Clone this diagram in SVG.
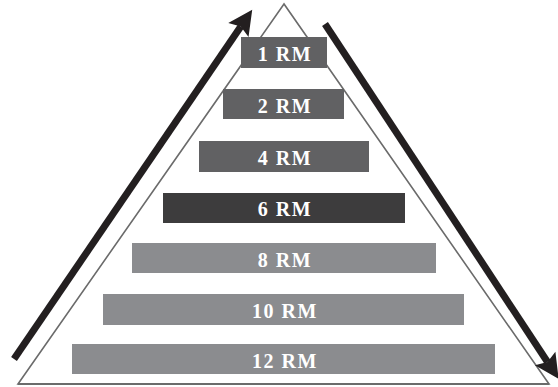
<svg xmlns="http://www.w3.org/2000/svg" width="558" height="387" viewBox="0 0 558 387">
<defs>
<marker id="head" markerUnits="userSpaceOnUse" markerWidth="32" markerHeight="32" viewBox="-2 -14 30 28" refX="4" refY="0" orient="auto" overflow="visible">
<path d="M0,-11.5 L23,0 L0,11.5 L4,0 Z" fill="#231f20"/>
</marker>
<style>
.bar text{font-family:"Liberation Serif","Times New Roman",serif;font-weight:bold;font-size:20px;fill:#ffffff;text-anchor:middle;letter-spacing:1.5px}
.mid{fill:#616163}
.dark{fill:#3d3c3d}
.light{fill:#8b8c8f}
.arrow{stroke:#231f20;stroke-width:7;fill:none;marker-end:url(#head)}
</style>
</defs>
<rect width="558" height="387" fill="#ffffff"/>
<g id="pyramid">
<polygon points="284,4 18,384 549,384" fill="none" stroke="#6b6b6b" stroke-width="1.6"/>
<line x1="18" y1="384" x2="549" y2="384" stroke="#6b6b6b" stroke-width="2.2"/>
</g>
<g id="rm1" class="bar"><rect class="mid" x="241" y="37" width="86" height="31"/><text x="285" y="61">1 RM</text></g>
<g id="rm2" class="bar"><rect class="mid" x="223" y="89" width="121" height="30"/><text x="285" y="113">2 RM</text></g>
<g id="rm4" class="bar"><rect class="mid" x="199" y="141" width="170" height="31"/><text x="285" y="165">4 RM</text></g>
<g id="rm6" class="bar"><rect class="dark" x="163" y="193" width="242" height="30"/><text x="285" y="216">6 RM</text></g>
<g id="rm8" class="bar"><rect class="light" x="132" y="243" width="304" height="30"/><text x="285" y="267">8 RM</text></g>
<g id="rm10" class="bar"><rect class="light" x="103" y="294" width="361" height="31"/><text x="285" y="318">10 RM</text></g>
<g id="rm12" class="bar"><rect class="light" x="72" y="344" width="423" height="30"/><text x="285" y="368">12 RM</text></g>
<g id="connectors">
<line class="arrow" x1="14" y1="359" x2="240.8" y2="26.5"/>
<line class="arrow" x1="325" y1="24" x2="547.5" y2="362"/>
</g>
</svg>
